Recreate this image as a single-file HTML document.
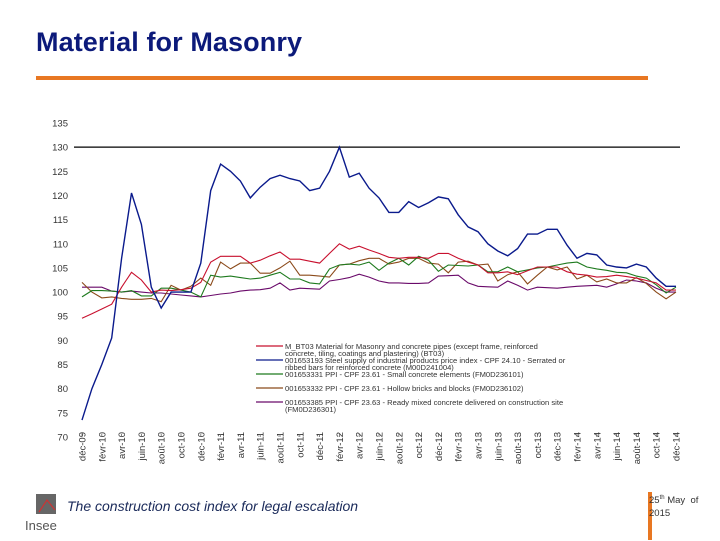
<!DOCTYPE html>
<html><head><meta charset="utf-8"><style>
body{margin:0;background:#fff;width:720px;height:540px;overflow:hidden;position:relative;font-family:"Liberation Sans",sans-serif}
#title{position:absolute;left:36px;top:27px;font-size:27px;font-weight:bold;color:#0c1a7a;margin:0;letter-spacing:0.1px}
#rule{position:absolute;left:36px;top:76px;width:612px;height:4px;background:#e87722}
#foot{position:absolute;left:67px;top:498px;font-size:14px;font-style:italic;color:#1a2a5a}
#vbar{position:absolute;left:648px;top:492px;width:4px;height:48px;background:#e87722}
#date{position:absolute;left:649px;top:492px;font-size:9.5px;color:#333;line-height:13px}
#logo{position:absolute;left:25px;top:494px}
</style></head><body>
<h1 id="title">Material for Masonry</h1>
<div id="rule"></div>
<svg id="chart" width="720" height="540" style="position:absolute;left:0;top:0"></svg>
<div id="logo">
<svg width="40" height="42"><rect x="11" y="0" width="20" height="20" fill="#666"/><path d="M14 18 L22 6 L30 16" stroke="#c33" fill="none" stroke-width="1.2"/><text x="0" y="36" font-size="13" fill="#555" font-family="Liberation Sans">Insee</text></svg></div>
<div id="foot">The construction cost index for legal escalation</div>
<div id="vbar"></div>
<div id="date">25<sup style="font-size:6px">th</sup> May&nbsp; of<br>2015</div>
<script>
const monthLabels=["déc-09","févr-10","avr-10","juin-10","août-10","oct-10","déc-10","févr-11","avr-11","juin-11","août-11","oct-11","déc-11","févr-12","avr-12","juin-12","août-12","oct-12","déc-12","févr-13","avr-13","juin-13","août-13","oct-13","déc-13","févr-14","avr-14","juin-14","août-14","oct-14","déc-14"];
const yTicks=[70,75,80,85,90,95,100,105,110,115,120,125,130,135];
const seriesRed=[94.6,95.5,96.5,97.5,101,104.1,102.5,100,100.4,100.3,100.5,100.8,102,106.2,107.4,107.4,107.4,106,106.6,107.5,108.3,106.8,106.8,106.4,106,108,110,108.9,109.5,108.7,108,107.2,107,107.2,107.2,107,108,108,107,106.2,105.6,104,104,104.2,103.6,104.4,105.2,105.2,105.2,104.2,103.7,103.5,103.1,103.2,103.5,103.2,102.9,102.4,101.9,100.4,100.4];
const seriesBlue=[73.5,80,85,90.5,107,120.5,114,101,96.7,100,100,100,106,121,126.5,125,123,119.5,121.7,123.5,124.2,123.5,123,121,121.5,125,130,123.8,124.6,121.5,119.5,116.5,116.5,118.7,117.5,118.5,119.7,119.3,116,113.5,112.5,110,108.5,107.5,109,112,112,113,113,109.7,107,108,107.7,105.6,105.2,105,105.8,105.2,102.9,101.2,101.2];
const seriesGreen=[99,100.3,100.3,100.2,100,100.3,99.2,99.2,100.8,100.8,100.4,100,99,103.5,103.1,103.3,103,102.7,102.9,103.5,104.1,102.7,102.7,101.9,101.7,104.8,105.6,105.8,105.6,106.2,104.5,106,107,105.6,107.4,106.6,104.3,105.6,105.5,105.4,105.6,104.2,104.2,105.2,104.2,104.6,105,105.2,105.6,106,106.2,105.2,104.8,104.5,104.1,104,103.3,102.9,101.5,99.8,101];
const seriesBrown=[102,100,98.8,99,98.7,98.5,98.5,98.7,98,101.4,100.4,101.2,102.9,101.4,106.2,104.8,106,106,103.9,103.9,105,106.4,103.5,103.5,103.3,103.1,105.6,105.8,106.5,107,107,105.8,106.2,107,107,106,105.8,104,106.2,106.4,105.6,105.8,102.3,103.6,104.2,101.7,103.5,105.2,104.6,105.2,102.7,103.5,102.1,102.7,101.9,101.9,103,101.8,100,98.6,100];
const seriesPurple=[101,101,101,100.2,100,100.2,100,99.8,99.8,99.6,99.4,99.2,99,99.3,99.6,99.8,100.2,100.4,100.5,100.8,101.9,100.4,100.8,100.7,100.6,102.3,102.6,103,103.7,103.1,102.3,101.9,101.9,101.8,101.8,101.9,103.3,103.4,103.5,101.9,101.2,101.1,101,102.3,101.4,100.4,101,100.9,100.8,101,101.2,101.3,101.4,101,101.7,102.5,102.3,101.9,100.8,100,100];
const legendLabels=[
 ["M_BT03 Material for Masonry and concrete pipes (except frame, reinforced","concrete, tiling, coatings and plastering) (BT03)"],
 ["001653193 Steel supply of industrial products price index - CPF 24.10 - Serrated or","ribbed bars for reinforced concrete (M00D241004)"],
 ["001653331 PPI - CPF 23.61 - Small concrete elements (FM0D236101)"],
 ["001653332 PPI - CPF 23.61 - Hollow bricks and blocks (FM0D236102)"],
 ["001653385 PPI - CPF 23.63 - Ready mixed concrete delivered on construction site","(FM0D236301)"]];
const NS="http://www.w3.org/2000/svg";
const svg=document.getElementById('chart');
const x0=82,x1=676,yMin=70,yMax=135,py0=437,py1=123;
function xs(i){return x0+i*(x1-x0)/(seriesRed.length-1);}
function ys(v){return py0-(v-yMin)*(py0-py1)/(yMax-yMin);}
function mk(tag,attrs){const e=document.createElementNS(NS,tag);for(const k in attrs)e.setAttribute(k,attrs[k]);svg.appendChild(e);return e;}
const g=mk('line',{x1:74,x2:680,y1:ys(130),y2:ys(130),stroke:'#000','stroke-width':1.3});


yTicks.forEach(v=>{const t=mk('text',{x:68,y:ys(v)+3.5,'text-anchor':'end','font-size':9.5,fill:'#333'});t.textContent=v;

});
monthLabels.forEach((m,k)=>{const x=xs(k*2);const t=mk('text',{transform:`translate(${x+3.5},${432}) rotate(-90)`,'text-anchor':'end','font-size':9.5,fill:'#333'});t.textContent=m;


const tk=mk('line',{x1:x,x2:x,y1:434,y2:437,stroke:'#666','stroke-width':0.8});

});
const series=[[seriesRed,'#c8102e','series-bt03'],[seriesBlue,'#0a1a8c','series-steel-bars'],[seriesGreen,'#1e7a1e','series-concrete-elements'],[seriesBrown,'#8b4a1a','series-hollow-bricks'],[seriesPurple,'#6a0a6a','series-ready-mixed-concrete']];
[4,3,2,0,1].forEach(si=>{const [d,c,n]=series[si];const p=mk('polyline',{points:d.map((v,i)=>xs(i).toFixed(1)+','+ys(v).toFixed(1)).join(' '),fill:'none',stroke:c,'stroke-width':si==1?1.4:1.1});

});
const ly=[346,360,374,388,402];
legendLabels.forEach((lines,i)=>{const l=mk('line',{x1:256,x2:283,y1:ly[i],y2:ly[i],stroke:series[i][1],'stroke-width':1.2});


lines.forEach((s,j)=>{const t=mk('text',{x:285,y:ly[i]+3+j*7,'font-size':7.6,fill:'#333'});t.textContent=s;

});});
</script>
</body></html>
